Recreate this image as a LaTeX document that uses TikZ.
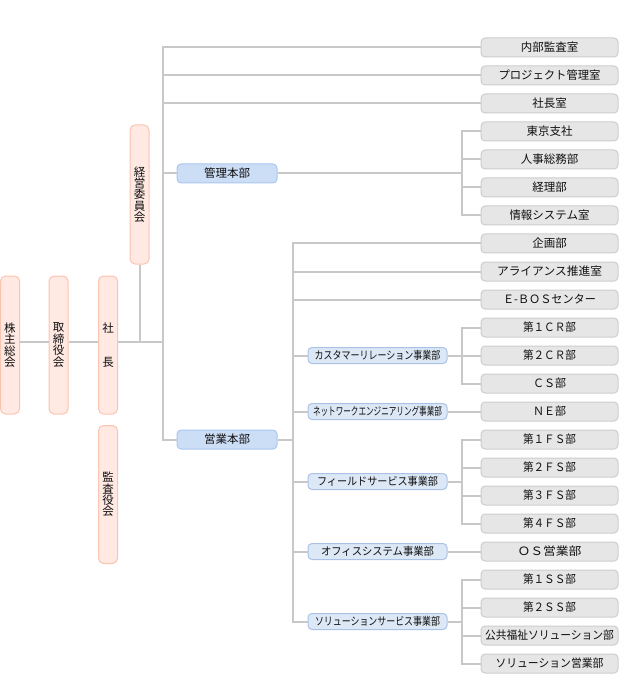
\documentclass[tikz,border=0pt]{standalone}
\usepackage{fontspec}
\setmainfont{Noto Sans CJK JP}
\usepackage{graphicx}
\definecolor{linegray}{RGB}{200,200,200}
\definecolor{pinkfill}{RGB}{255,233,226}
\definecolor{pinkline}{RGB}{250,196,176}
\definecolor{bluefill}{RGB}{204,221,246}
\definecolor{blueline}{RGB}{170,199,240}
\definecolor{lbluefill}{RGB}{221,232,246}
\definecolor{lblueline}{RGB}{170,194,230}
\definecolor{grayfill}{RGB}{230,230,230}
\definecolor{grayline}{RGB}{205,205,205}
\definecolor{txt}{RGB}{15,15,15}
\tikzset{
  conn/.style={draw=linegray, line width=2pt},
  pinkbox/.style={draw=pinkline, fill=pinkfill, rounded corners=5pt, minimum width=19pt, minimum height=138pt, inner sep=0pt, line width=1pt, align=center, text=txt, font=\fontsize{11.5}{11.4}\selectfont},
  honbu/.style={draw=blueline, fill=bluefill, rounded corners=4pt, minimum width=100pt, minimum height=19pt, inner sep=0pt, line width=1pt, text=txt, font=\fontsize{11.5}{13}\selectfont},
  jigyo/.style={draw=lblueline, fill=lbluefill, rounded corners=4pt, minimum width=139pt, minimum height=16pt, inner sep=0pt, line width=1pt, text=txt, font=\fontsize{11}{12}\selectfont},
  dept/.style={draw=grayline, fill=grayfill, rounded corners=4pt, minimum width=137pt, minimum height=19pt, inner sep=0pt, line width=1pt, text=txt, font=\fontsize{11.5}{13}\selectfont}
}
\newcommand{\sqz}[2]{\resizebox{#1pt}{\height}{#2}}
\begin{document}
\begin{tikzpicture}[x=1pt,y=-1pt]
\useasboundingbox (0,0) rectangle (620,700);
% left vertical boxes
\node[pinkbox] (kabu) at (10,345) {株\\主\\総\\会};
\node[pinkbox] (tori) at (58.5,345) {取\\締\\役\\会};
\node[pinkbox] (sha) at (108,345) {社\\[22pt]長};
\node[pinkbox, minimum height=139pt] (keiei) at (139.5,194.5) {経\\営\\委\\員\\会};
\node[pinkbox] (kansa) at (108,494.5) {監\\査\\役\\会};
% headquarters
\node[honbu] (kanri) at (227,173.5) {管理本部};
\node[honbu] (eigyo) at (227,439.5) {営業本部};
% divisions
\node[jigyo] (m1) at (377.5,355.5) {\sqz{126}{カスタマーリレーション事業部}};
\node[jigyo] (m2) at (377.5,411.5) {\sqz{129}{ネットワークエンジニアリング事業部}};
\node[jigyo] (m3) at (377.5,481.5) {\sqz{121}{フィールドサービス事業部}};
\node[jigyo] (m4) at (377.5,551.5) {\sqz{113}{オフィスシステム事業部}};
\node[jigyo] (m5) at (377.5,621.5) {\sqz{125}{ソリューションサービス事業部}};
% departments
\node[dept] (r1) at (549.5,47.5) {内部監査室};
\node[dept] (r2) at (549.5,75.5) {\sqz{102}{プロジェクト管理室}};
\node[dept] (r3) at (549.5,103.5) {社長室};
\node[dept] (r4) at (549.5,131.5) {東京支社};
\node[dept] (r5) at (549.5,159.5) {人事総務部};
\node[dept] (r6) at (549.5,187.5) {経理部};
\node[dept] (r7) at (549.5,215.5) {\sqz{80}{情報システム室}};
\node[dept] (r8) at (549.5,243.5) {企画部};
\node[dept] (r9) at (549.5,271.5) {\sqz{105}{アライアンス推進室}};
\node[dept] (r10) at (549.5,299.5) {\sqz{93}{Ｅ-ＢＯＳセンター}};
\node[dept] (r11) at (549.5,327.5) {\sqz{53}{第１ＣＲ部}};
\node[dept] (r12) at (549.5,355.5) {\sqz{53}{第２ＣＲ部}};
\node[dept] (r13) at (549.5,383.5) {\sqz{33}{ＣＳ部}};
\node[dept] (r14) at (549.5,411.5) {\sqz{33}{ＮＥ部}};
\node[dept] (r15) at (549.5,439.5) {\sqz{53}{第１ＦＳ部}};
\node[dept] (r16) at (549.5,467.5) {\sqz{53}{第２ＦＳ部}};
\node[dept] (r17) at (549.5,495.5) {\sqz{53}{第３ＦＳ部}};
\node[dept] (r18) at (549.5,523.5) {\sqz{53}{第４ＦＳ部}};
\node[dept] (r19) at (549.5,551.5) {\sqz{64}{ＯＳ営業部}};
\node[dept] (r20) at (549.5,579.5) {\sqz{53}{第１ＳＳ部}};
\node[dept] (r21) at (549.5,607.5) {\sqz{53}{第２ＳＳ部}};
\node[dept] (r22) at (549.5,635.5) {\sqz{129}{公共福祉ソリューション部}};
\node[dept] (r23) at (549.5,663.5) {\sqz{108}{ソリューション営業部}};
% helper coordinates
\coordinate (T) at (162.5,0);
\coordinate (S) at (293,0);
\coordinate (K) at (462,0);
\coordinate (ML) at (0,342);
% main line
\draw[conn] (kabu.east |- ML) -- (tori.west |- ML);
\draw[conn] (tori.east |- ML) -- (sha.west |- ML);
\draw[conn] (sha.east |- ML) -- (T |- ML);
\draw[conn] (keiei.south) -- (keiei.south |- ML);
% trunk
\draw[conn] (r1.west) -- (T |- r1.west) -- (T |- eigyo.west) -- (eigyo.west);
\draw[conn] (r2.west) -- (T |- r2.west);
\draw[conn] (r3.west) -- (T |- r3.west);
\draw[conn] (kanri.west) -- (T |- kanri.west);
% kanri branch
\draw[conn] (kanri.east) -- (K |- kanri.east);
\draw[conn] (r4.west) -- (K |- r4.west) -- (K |- r7.west) -- (r7.west);
\draw[conn] (r5.west) -- (K |- r5.west);
\draw[conn] (r6.west) -- (K |- r6.west);
% eigyo branch
\draw[conn] (eigyo.east) -- (S |- eigyo.east);
\draw[conn] (r8.west) -- (S |- r8.west) -- (S |- m5.west) -- (m5.west);
\draw[conn] (r9.west) -- (S |- r9.west);
\draw[conn] (r10.west) -- (S |- r10.west);
\draw[conn] (m1.west) -- (S |- m1.west);
\draw[conn] (m2.west) -- (S |- m2.west);
\draw[conn] (m3.west) -- (S |- m3.west);
\draw[conn] (m4.west) -- (S |- m4.west);
% CR
\draw[conn] (m1.east) -- (K |- m1.east);
\draw[conn] (r11.west) -- (K |- r11.west) -- (K |- r13.west) -- (r13.west);
\draw[conn] (r12.west) -- (K |- r12.west);
% NE
\draw[conn] (m2.east) -- (r14.west);
% FS
\draw[conn] (m3.east) -- (K |- m3.east);
\draw[conn] (r15.west) -- (K |- r15.west) -- (K |- r18.west) -- (r18.west);
\draw[conn] (r16.west) -- (K |- r16.west);
\draw[conn] (r17.west) -- (K |- r17.west);
% OS
\draw[conn] (m4.east) -- (r19.west);
% SS
\draw[conn] (m5.east) -- (K |- m5.east);
\draw[conn] (r20.west) -- (K |- r20.west) -- (K |- r23.west) -- (r23.west);
\draw[conn] (r21.west) -- (K |- r21.west);
\draw[conn] (r22.west) -- (K |- r22.west);
\end{tikzpicture}
\end{document}
